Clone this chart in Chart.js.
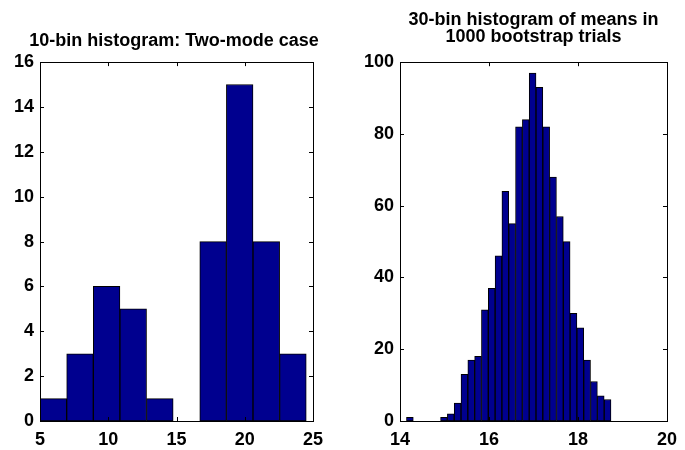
<!DOCTYPE html>
<html>
<head>
<meta charset="utf-8">
<script src="https://cdn.jsdelivr.net/npm/chart.js@4"></script>
<style>
  body { margin: 0; background: #fff; }
  .panel { position: absolute; top: 0; height: 450px; }
</style>
</head>
<body>
<div class="panel" style="left:0;width:348px"><canvas id="grafico1" width="348" height="450"></canvas></div>
<div class="panel" style="left:345px;width:340px"><canvas id="grafico2" width="340" height="450"></canvas></div>
<script>
// two-mode sample, 10 bins
const twoModeCenters = [5.98, 7.93, 9.88, 11.83, 13.78, 15.73, 17.68, 19.63, 21.58, 23.53];
const twoModeCounts = [1, 3, 6, 5, 1, 0, 8, 15, 8, 3];

// bootstrap means, 30 bins
const meanCenters = [14.222, 14.375, 14.529, 14.682, 14.835, 14.988, 15.141, 15.295, 15.448, 15.601,
                     15.754, 15.907, 16.061, 16.214, 16.367, 16.520, 16.673, 16.827, 16.980, 17.133,
                     17.286, 17.439, 17.593, 17.746, 17.899, 18.052, 18.205, 18.359, 18.512, 18.665];
const meanCounts = [1, 0, 0, 0, 0, 1, 2, 5, 13, 17, 18, 31, 37, 46, 64, 55, 82, 84, 97, 93,
                    82, 68, 57, 50, 30, 26, 17, 11, 7, 6];

const leftTicksX = [5, 10, 15, 20, 25];
const leftTicksY = [0, 2, 4, 6, 8, 10, 12, 14, 16];
const rightTicksX = [14, 16, 18, 20];
const rightTicksY = [0, 20, 40, 60, 80, 100];

const FONT = { family: '"Liberation Sans", Arial, sans-serif', size: 18, weight: 'bold' };

// matlab-like box with inward ticks on all four sides
const boxPlugin = {
    id: 'box',
    afterDraw(chart) {
        const ctx = chart.ctx;
        const a = chart.chartArea;
        const x = chart.scales.x, y = chart.scales.y;
        const len = 4;
        ctx.save();
        ctx.strokeStyle = '#000';
        ctx.lineWidth = 1;
        ctx.strokeRect(Math.round(a.left) + 0.5, Math.round(a.top) + 0.5,
                       Math.round(a.right - a.left), Math.round(a.bottom - a.top));
        ctx.beginPath();
        x.ticks.forEach(t => {
            const px = Math.round(x.getPixelForValue(t.value)) + 0.5;
            ctx.moveTo(px, a.bottom); ctx.lineTo(px, a.bottom - len);
            ctx.moveTo(px, a.top); ctx.lineTo(px, a.top + len);
        });
        y.ticks.forEach(t => {
            const py = Math.round(y.getPixelForValue(t.value)) + 0.5;
            ctx.moveTo(a.left, py); ctx.lineTo(a.left + len, py);
            ctx.moveTo(a.right, py); ctx.lineTo(a.right - len, py);
        });
        ctx.stroke();
        ctx.restore();
    }
};

function histogram(id, centers, counts, xTicks, yTicks, title, yWidth, gapRight, titlePad, wideTitle) {
    const ctx = document.getElementById(id).getContext('2d');
    new Chart(ctx, {
        type: 'bar',
        data: {
            datasets: [{
                data: centers.map((c, i) => ({ x: c, y: counts[i] })),
                backgroundColor: '#00008f',
                borderColor: '#000',
                borderWidth: 1,
                borderSkipped: false,
                barPercentage: 1,
                categoryPercentage: 1
            }]
        },
        options: {
            responsive: false,
            animation: false,
            layout: { padding: 0 },
            plugins: {
                legend: { display: false },
                tooltip: { enabled: false },
                title: {
                    display: true,
                    text: title,
                    color: '#000',
                    fullSize: wideTitle,
                    font: { family: FONT.family, size: 18, weight: 'bold', lineHeight: 0.95 },
                    padding: titlePad
                }
            },
            scales: {
                x: {
                    type: 'linear',
                    offset: false,
                    min: xTicks[0],
                    max: xTicks[xTicks.length - 1],
                    afterBuildTicks: s => { s.ticks = xTicks.map(v => ({ value: v })); },
                    afterFit: s => { s.height = 29; },
                    grid: { display: false, drawTicks: false },
                    border: { display: false },
                    ticks: { color: '#000', font: FONT, padding: 8, maxRotation: 0 }
                },
                y: {
                    min: yTicks[0],
                    max: yTicks[yTicks.length - 1],
                    afterBuildTicks: s => { s.ticks = yTicks.map(v => ({ value: v })); },
                    afterFit: s => { s.width = yWidth; },
                    grid: { display: false, drawTicks: false },
                    border: { display: false },
                    ticks: { color: '#000', font: FONT, padding: 6 }
                },
                // empty right-hand axis, only reserves the gap after the plot box
                yGap: {
                    position: 'right',
                    afterFit: s => { s.width = gapRight; },
                    grid: { display: false, drawTicks: false },
                    border: { display: false },
                    ticks: { display: false }
                }
            }
        },
        plugins: [boxPlugin]
    });
}

histogram('grafico1', twoModeCenters, twoModeCounts, leftTicksX, leftTicksY,
    '10-bin histogram: Two-mode case', 40, 35, { top: 32, bottom: 13 }, true);
histogram('grafico2', meanCenters, meanCounts, rightTicksX, rightTicksY,
    ['30-bin histogram of means in', '1000 bootstrap trials'], 55, 10, { top: 11, bottom: 17 }, false);
</script>
</body>
</html>
